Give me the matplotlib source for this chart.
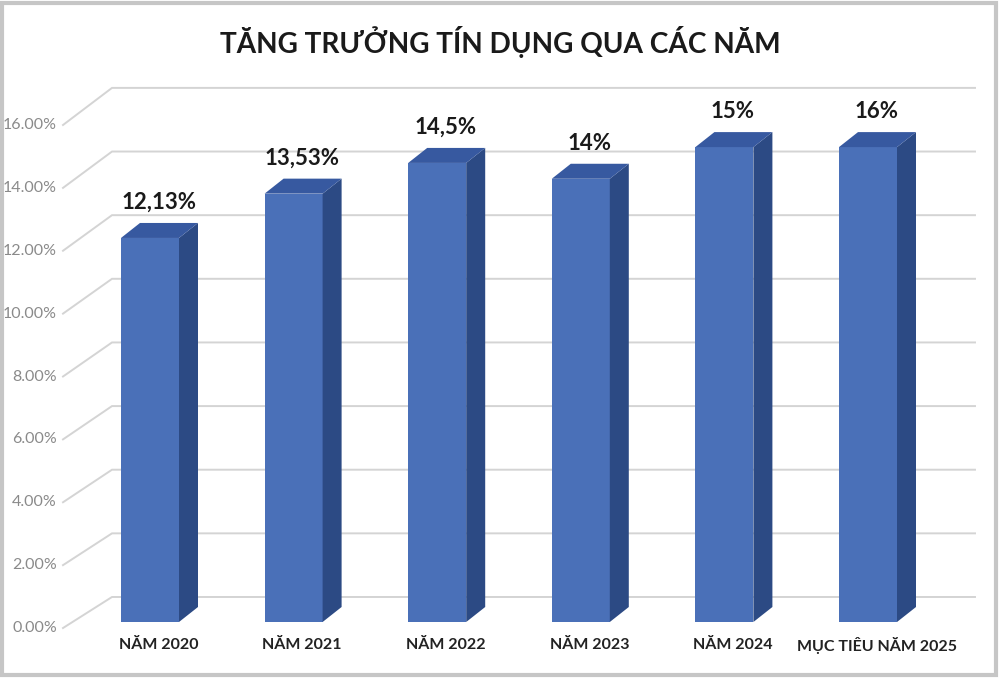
import matplotlib
matplotlib.use("Agg")
import matplotlib.pyplot as plt
from matplotlib.patches import Rectangle

# ---- data ----
categories = ['NĂM 2020', 'NĂM 2021', 'NĂM 2022', 'NĂM 2023', 'NĂM 2024', 'MỤC TIÊU NĂM 2025']
bar_values = [12.13, 13.53, 14.5, 14.0, 15.0, 15.0]
value_labels = ['12,13%', '13,53%', '14,5%', '14%', '15%', '16%']
y_ticks = [0, 2, 4, 6, 8, 10, 12, 14, 16]
y_tick_labels = ['0.00%', '2.00%', '4.00%', '6.00%', '8.00%', '10.00%', '12.00%', '14.00%', '16.00%']
title = 'TĂNG TRƯỞNG TÍN DỤNG QUA CÁC NĂM'

plt.rcParams['font.family'] = ['Lato', 'DejaVu Sans']

W, H = 1000, 678
fig = plt.figure(figsize=(W / 100, H / 100), dpi=100)
ax = fig.add_axes([0, 0, 1, 1])
ax.axis('off')

# pixel mapping: px = 150 + 143.6*x ; py = 622 - 31.66*v
sx, sy = 143.6, 31.66
ax.set_xlim(-150 / sx, (W - 150) / sx)
ax.set_ylim((622 - H) / sy, 622 / sy)

# geometry (layout)
hw = 29 / sx          # half width of front face
ddx = 19 / sx         # depth offset x
ddy = 15 / sy         # depth offset y
x_front = (63 - 150) / sx
x_back = (112 - 150) / sx
x_end = (975 - 150) / sx

front_col = '#4a70b8'
side_col = '#2c4a84'
top_col = '#3759a0'
grid_col = '#d4d4d4'

# gridlines (perspective floor/wall lines)
for t, lab in zip(y_ticks, y_tick_labels):
    vf = t * 0.993 - 0.19
    vb = t * 1.005 + 0.79
    ax.plot([x_front, x_back, x_end], [vf, vb, vb], color=grid_col, lw=1.4,
            zorder=1, solid_joinstyle='miter')
    ax.text(x_front - 6 / sx, vf, lab, ha='right', va='center', fontsize=11.5,
            color='#8a8a8a', fontweight='normal')

# bars
xs = list(range(len(categories)))
ax.bar(xs, bar_values, width=2 * hw, color=front_col, zorder=3, linewidth=0)
for x, v, lab in zip(xs, bar_values, value_labels):
    # side face
    ax.fill([x + hw, x + hw + ddx, x + hw + ddx, x + hw],
            [0, ddy, v + ddy, v], color=side_col, zorder=3, lw=0)
    # top face
    ax.fill([x - hw, x - hw + ddx, x + hw + ddx, x + hw],
            [v, v + ddy, v + ddy, v], color=top_col, zorder=3, lw=0)
    ax.text(x + 0.06, v + ddy + 0.45, lab, ha='center', va='baseline',
            fontsize=16, fontweight='bold', color='#1a1a1a', zorder=4)

for x, c in zip(xs, categories):
    ax.text(x + 0.06, (622 - 645) / sy, c, ha='center', va='center',
            fontsize=11.5, fontweight='bold', color='#222222')

ax.text((500 - 150) / sx, (622 - 42) / sy, title, ha='center', va='center',
        fontsize=20.2, fontweight='bold', color='#1a1a1a')

# frame
fig.patches.append(Rectangle((2 / W, 3 / H), 994 / W, 672 / H, transform=fig.transFigure,
                             fill=False, edgecolor='#c6c6c6', lw=3))

fig.savefig('out.png', dpi=100, facecolor='white')
